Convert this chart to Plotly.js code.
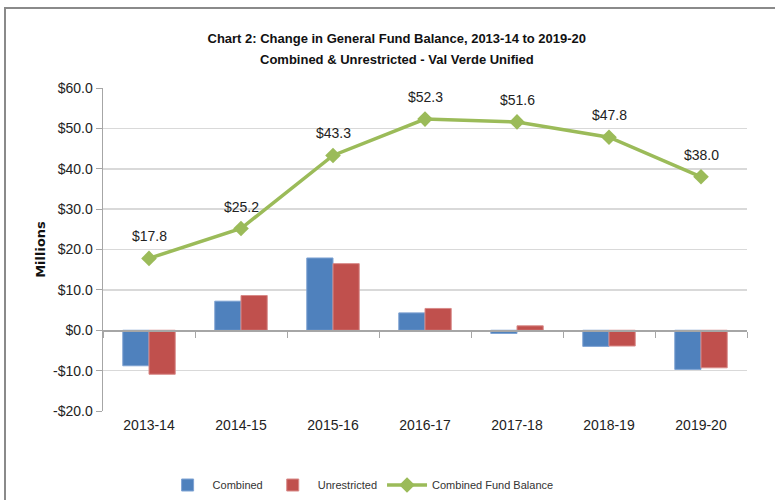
<!DOCTYPE html>
<html><head><meta charset="utf-8">
<script src="https://cdn.plot.ly/plotly-3.0.1.min.js"></script>
<style>
html,body{margin:0;padding:0;background:#fff;}
#wrap{position:relative;width:775px;height:500px;}
#chart{width:775px;height:500px;}
#frame{position:absolute;left:4px;top:7px;right:-5px;bottom:-5px;border-top:2px solid #8a8a8a;border-left:2px solid #8a8a8a;pointer-events:none;}
</style></head>
<body><div id="wrap"><div id="chart"></div><div id="frame"></div></div>
<script>
const categories = ["2013-14","2014-15","2015-16","2016-17","2017-18","2018-19","2019-20"];
const combined = [-8.8, 7.2, 17.9, 4.3, -0.8, -4.0, -9.7];
const unrestricted = [-10.9, 8.6, 16.5, 5.4, 1.1, -3.9, -9.3];
const fundBalance = [17.8, 25.2, 43.3, 52.3, 51.6, 47.8, 38.0];
const yTicks = [-20,-10,0,10,20,30,40,50,60];
const yTickText = yTicks.map(v => (v<0?"-$":"$") + Math.abs(v).toFixed(1));

const F = "'Liberation Sans', Arial, sans-serif";

const traces = [
  {type:'bar', name:'Combined', x:categories, y:combined,
   marker:{color:'#4F81BD', line:{color:'#7fa3d3', width:1}}, hoverinfo:'y'},
  {type:'bar', name:'Unrestricted', x:categories, y:unrestricted,
   marker:{color:'#C0504D', line:{color:'#d88a88', width:1}}, hoverinfo:'y'},
  {type:'scatter', mode:'lines+markers', name:'Combined Fund Balance', x:categories, y:fundBalance,
   line:{color:'#9BBB59', width:3.5}, marker:{symbol:'diamond', size:12, color:'#9BBB59'}},
  {type:'scatter', x:categories, y:categories.map(()=>0), xaxis:'x2', mode:'none', showlegend:false, hoverinfo:'skip'}
];

const annotations = categories.map((c,i)=>({
  x:c, y:fundBalance[i], xref:'x', yref:'y', text:'$'+fundBalance[i].toFixed(1),
  showarrow:false, yshift:22, font:{family:F, size:14, color:'#222'}
}));
annotations.push({xref:'paper', yref:'paper', x:0.4565, y:1.087, xanchor:'center', yanchor:'middle', showarrow:false,
  text:'<b>Combined & Unrestricted - Val Verde Unified</b>', font:{family:F, size:13, color:'#111'}});

const layout = {
  width:775, height:500,
  margin:{l:103, r:28, t:88, b:89},
  paper_bgcolor:'#fff', plot_bgcolor:'#fff',
  title:{text:'<b>Chart 2: Change in General Fund Balance, 2013-14 to 2019-20</b>',
         x:0.512, xanchor:'center', y:0.924, yanchor:'middle', font:{family:F, size:13, color:'#111'}},
  barmode:'group', bargap:0.43, bargroupgap:0,
  showlegend:true,
  legend:{orientation:'h', x:0.40, xanchor:'center', yref:'container', y:0.03, yanchor:'middle',
          font:{family:F, size:11, color:'#333'}, itemwidth:40, traceorder:'normal'},
  xaxis:{type:'category', showgrid:false, showline:false, ticks:'', zeroline:false,
         tickfont:{family:F, size:14, color:'#222'}, ticklabelstandoff:4},
  xaxis2:{type:'category', overlaying:'x', anchor:'free', position:0.25, showgrid:false,
          showline:true, linecolor:'#a6a6a6', linewidth:1.5, ticks:'outside', tickson:'boundaries',
          ticklen:6, tickcolor:'#a6a6a6', showticklabels:false, matches:'x'},
  yaxis:{range:[-20,60], tickvals:yTicks, ticktext:yTickText, showgrid:true, gridcolor:'#d9d9d9', gridwidth:1.5,
         zeroline:false, showline:true, linecolor:'#a6a6a6', linewidth:1.5, ticks:'outside', ticklen:6, tickcolor:'#a6a6a6',
         tickfont:{family:F, size:14, color:'#222'},
         title:{text:'<b>Millions</b>', font:{family:'DejaVu Sans, Arial, sans-serif', size:13, color:'#111'}, standoff:4}},
  annotations:annotations
};

Plotly.newPlot('chart', traces, layout, {displayModeBar:false, staticPlot:true});
</script></body></html>
